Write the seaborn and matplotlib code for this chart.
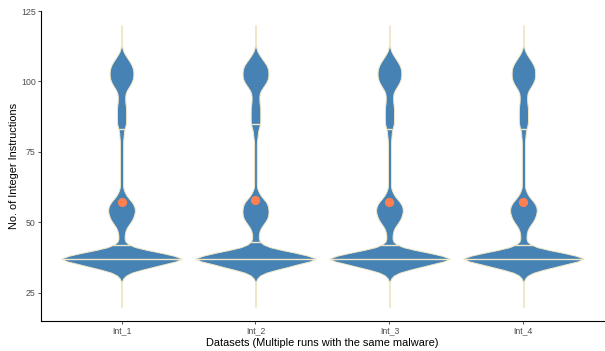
import numpy as np
import pandas as pd
import matplotlib
matplotlib.use("Agg")
import matplotlib.pyplot as plt
import seaborn as sns

# Violin data: instruction counts 20..120 and how often each occurs
# (one list per dataset, shape of the violins)
values = np.arange(20, 121)

datasets = ["Int_1", "Int_2", "Int_3", "Int_4"]

counts_int1 = [2, 2, 2, 2, 2, 2, 2, 2, 2, 2,                                   # 20-29
               15, 40, 90, 210, 360, 490, 620, 820, 650, 520, 340, 160, 90,    # 30-42
               40, 36, 36, 40, 46,                                             # 43-47
               60, 84, 108, 132, 144, 156, 162, 162, 150, 132, 102, 72, 48, 36,  # 48-61
               19, 19, 19, 19, 19, 19, 19, 19, 19, 19, 19, 19, 19, 19, 19, 19, 19, 19,  # 62-79
               24, 26, 28, 35, 45,                                             # 80-84
               55, 55, 55, 55, 55, 55, 55, 47, 45, 44, 44, 48,                 # 85-96
               66, 88, 110, 127, 138, 143, 143, 143, 132, 121, 99, 77, 55, 33, 16, 9,  # 97-112
               2, 2, 2, 2, 2, 2, 2, 2]                                         # 113-120

counts_int2 = [2, 2, 2, 2, 2, 2, 2, 2, 2, 2,
               15, 40, 90, 210, 360, 465, 590, 790, 620, 500, 340, 160, 90,
               48, 36, 36, 40, 46,
               60, 84, 108, 132, 144, 150, 150, 150, 140, 132, 102, 72, 48, 36,
               16, 16, 16, 16, 16, 16, 16, 16, 16, 16, 16, 16, 16, 16, 16, 16, 16, 16,
               24, 26, 28, 35, 45,
               55, 55, 55, 55, 55, 55, 55, 47, 45, 44, 44, 48,
               66, 88, 110, 133, 144, 149, 149, 149, 138, 127, 99, 77, 55, 33, 16, 9,
               2, 2, 2, 2, 2, 2, 2, 2]

counts_int3 = [2, 2, 2, 2, 2, 2, 2, 2, 2, 2,
               15, 40, 90, 210, 360, 490, 620, 820, 650, 520, 340, 160, 90,
               40, 36, 36, 40, 46,
               60, 84, 108, 132, 144, 156, 162, 162, 150, 132, 102, 72, 48, 36,
               18, 18, 18, 18, 18, 18, 18, 18, 18, 18, 18, 18, 18, 18, 18, 18, 18, 18,
               24, 26, 28, 35, 45,
               55, 55, 55, 55, 55, 55, 55, 47, 45, 44, 44, 48,
               66, 88, 110, 127, 138, 143, 143, 143, 132, 121, 99, 77, 55, 33, 16, 9,
               2, 2, 2, 2, 2, 2, 2, 2]

counts_int4 = [2, 2, 2, 2, 2, 2, 2, 2, 2, 2,
               15, 40, 90, 210, 360, 490, 620, 820, 650, 520, 340, 160, 90,
               40, 36, 36, 40, 46,
               60, 84, 108, 132, 144, 156, 162, 162, 150, 132, 102, 72, 48, 36,
               19, 19, 19, 19, 19, 19, 19, 19, 19, 19, 19, 19, 19, 19, 19, 19, 19, 19,
               24, 26, 28, 35, 45,
               55, 55, 55, 55, 55, 55, 55, 47, 45, 44, 44, 48,
               66, 88, 110, 127, 138, 143, 140, 143, 132, 121, 99, 77, 55, 33, 16, 9,
               2, 2, 2, 2, 2, 2, 2, 2]

yticks = [25, 50, 75, 100, 125]

# Build long-format frame
frames = []
for name, cnt in zip(datasets, [counts_int1, counts_int2, counts_int3, counts_int4]):
    frames.append(pd.DataFrame({"dataset": name, "value": np.repeat(values, cnt)}))
data = pd.concat(frames, ignore_index=True)

# Theme: close to ggplot theme_classic
sns.set_theme(style="white")
plt.rcParams["font.family"] = ["Liberation Sans", "DejaVu Sans"]

fig = plt.figure(figsize=(6.05, 3.51), dpi=100)
ax = fig.add_axes([0.068, 0.0855, 0.930, 0.883])

outline = "#F0E7C6"

sns.violinplot(data=data, x="dataset", y="value", order=datasets,
               color="steelblue", saturation=1, linecolor=outline, linewidth=0.7,
               inner="quart", inner_kws=dict(color=outline, linewidth=1.0),
               bw_method=0.03, cut=0, width=0.9, density_norm="width", ax=ax)

# quantile lines solid like ggplot's draw_quantiles
for ln in ax.lines:
    ln.set_linestyle("-")

# Mean marker
sns.pointplot(data=data, x="dataset", y="value", order=datasets,
              estimator="mean", errorbar=None, linestyle="none",
              color="coral", markers="o", markersize=4.6, ax=ax)

ax.set_xlim(-0.6, 3.6)
ax.set_ylim(15, 125)
ax.set_yticks(yticks)

ax.set_xlabel("Datasets (Multiple runs with the same malware)", fontsize=7.9, color="black", labelpad=1.5)
ax.set_ylabel("No. of Integer Instructions", fontsize=7.9, color="black", labelpad=1)

ax.tick_params(axis="both", labelsize=6.3, labelcolor="#4D4D4D", length=2.2, width=0.6,
               color="#333333", pad=1.8, bottom=True, left=True)

sns.despine(ax=ax)
for side in ["left", "bottom"]:
    ax.spines[side].set_color("black")
    ax.spines[side].set_linewidth(0.8)

fig.savefig("out.png", dpi=100)
